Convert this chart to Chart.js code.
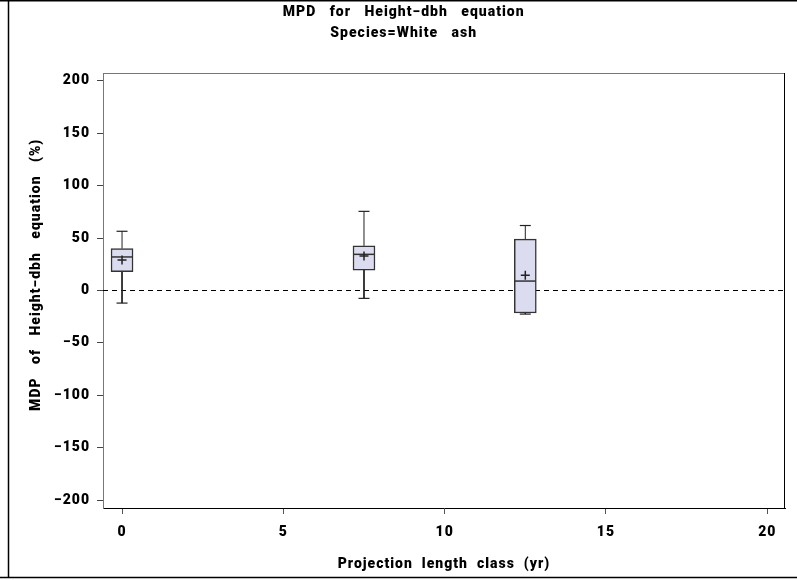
<!DOCTYPE html>
<html>
<head>
<meta charset="utf-8">
<title>MPD for Height-dbh equation</title>
<script src="https://cdn.jsdelivr.net/npm/chart.js@4.4.0/dist/chart.umd.min.js"></script>
<style>
  html, body { margin: 0; padding: 0; background: #fff; }
  canvas { display: block; }
</style>
</head>
<body>
<canvas id="boxChart" width="797" height="580"></canvas>
<script>
// box statistics per projection length class
const classes = [0, 7.5, 12.5];
const whiskerLow = [-12, -7.5, -22.5];
const q1 = [18, 19.5, -21.5];
const median = [32, 34.5, 9];
const q3 = [40, 42.5, 49];
const whiskerHigh = [56.5, 75.5, 62];
const means = [29, 33, 14.5];

// axis ticks and ranges
const xTicks = [0, 5, 10, 15, 20];
const yTicks = [-200, -150, -100, -50, 0, 50, 100, 150, 200];
const xRange = [-0.59, 20.55];
const yRange = [-207.5, 207.5];

const pad = n => '\u00A0'.repeat(n);
const gap3 = '\u00A0\u00A0\u00A0';
const titleLines = [
  pad(5) + ['MPD', 'for', 'Height\u2212dbh', 'equation'].join(gap3),
  pad(5) + ['Species=White', 'ash'].join(gap3)
];
const xLabel = ['Projection', 'length', 'class', '(yr)'].join('\u00A0\u00A0');
const yLabel = pad(7) + ['MDP', 'of', 'Height\u2212dbh', 'equation', '(%)'].join(gap3);

Chart.defaults.font.family = "Roboto, 'Liberation Sans', Arial, sans-serif";
Chart.defaults.font.size = 14;
Chart.defaults.font.weight = 900;
Chart.defaults.color = '#000';

// whisker segments, null breaks the line between them
const whiskerData = [];
classes.forEach((c, i) => {
  whiskerData.push({x: c, y: q3[i]}, {x: c, y: whiskerHigh[i]}, {x: c, y: null});
  whiskerData.push({x: c, y: q1[i]}, {x: c, y: whiskerLow[i]}, {x: c, y: null});
});

// outer frame + top/right sides of the plot box
const framePlugin = {
  id: 'frame',
  beforeDraw(chart) {
    const ctx = chart.ctx;
    ctx.letterSpacing = '1px';
    ctx.save();
    ctx.strokeStyle = '#000';
    ctx.lineWidth = 1.5;
    ctx.beginPath();
    ctx.moveTo(0, 0.75); ctx.lineTo(chart.width, 0.75);
    ctx.moveTo(0, 577.5); ctx.lineTo(chart.width, 577.5);
    ctx.moveTo(8.5, 0); ctx.lineTo(8.5, 578);
    ctx.stroke();
    ctx.restore();
  },
  afterDraw(chart) {
    const {ctx, chartArea: a} = chart;
    ctx.save();
    ctx.lineWidth = 1;
    ctx.strokeStyle = '#777';
    ctx.beginPath();
    ctx.moveTo(a.left, a.top + 0.5); ctx.lineTo(a.right, a.top + 0.5);
    ctx.stroke();
    ctx.strokeStyle = '#000';
    ctx.beginPath();
    ctx.moveTo(a.right - 0.5, a.top); ctx.lineTo(a.right - 0.5, a.bottom);
    ctx.stroke();
    ctx.restore();
  }
};

const ctx = document.getElementById('boxChart').getContext('2d');
new Chart(ctx, {
  type: 'bar',
  data: {
    datasets: [
      {
        label: 'box',
        data: classes.map((c, i) => ({x: c, y: [q1[i], q3[i]]})),
        backgroundColor: '#dcdcf0',
        borderColor: '#333',
        borderWidth: 1.5,
        borderSkipped: false,
        barThickness: 22,
        order: 5
      },
      {
        type: 'line',
        label: 'zero',
        data: [{x: xRange[0], y: 0}, {x: xRange[1], y: 0}],
        borderColor: '#000',
        borderWidth: 1,
        borderDash: [5, 4],
        pointRadius: 0,
        order: 10
      },
      {
        type: 'line',
        label: 'whisker',
        data: whiskerData,
        borderColor: '#222',
        borderWidth: 1,
        pointRadius: 0,
        spanGaps: false,
        order: 6
      },
      {
        type: 'line',
        label: 'caps',
        data: classes.flatMap((c, i) => [{x: c, y: whiskerHigh[i]}, {x: c, y: whiskerLow[i]}]),
        showLine: false,
        pointStyle: 'line',
        pointRadius: 5.5,
        pointBorderColor: '#222',
        pointBorderWidth: 1.2,
        order: 3
      },
      {
        type: 'line',
        label: 'median',
        data: classes.map((c, i) => ({x: c, y: median[i]})),
        showLine: false,
        pointStyle: 'line',
        pointRadius: 10.5,
        pointBorderColor: '#333',
        pointBorderWidth: 1.5,
        order: 2
      },
      {
        type: 'line',
        label: 'mean',
        data: classes.map((c, i) => ({x: c, y: means[i]})),
        showLine: false,
        pointStyle: 'cross',
        pointRadius: 4.5,
        pointBorderColor: '#222',
        pointBorderWidth: 1.5,
        order: 1
      }
    ]
  },
  options: {
    responsive: false,
    animation: false,
    layout: { padding: { left: 0, right: 12, top: 0, bottom: 0 } },
    plugins: {
      legend: { display: false },
      tooltip: { enabled: false },
      title: {
        display: true,
        text: titleLines,
        color: '#000',
        font: { size: 14, weight: 900, lineHeight: 1.5 },
        padding: { top: 2, bottom: 29 }
      }
    },
    scales: {
      x: {
        type: 'linear',
        min: xRange[0],
        max: xRange[1],
        offset: false,
        afterBuildTicks: s => { s.ticks = xTicks.map(v => ({value: v})); },
        afterFit: s => { s.height = 72; },
        ticks: { padding: 10, color: '#000', callback: v => String(v) },
        grid: { offset: false, drawOnChartArea: false, tickLength: 6, color: '#555' },
        border: { color: '#000', width: 1 },
        title: { display: true, text: xLabel, color: '#000', padding: { top: 0, bottom: 7 } }
      },
      y: {
        type: 'linear',
        min: yRange[0],
        max: yRange[1],
        afterBuildTicks: s => { s.ticks = yTicks.map(v => ({value: v})); },
        afterFit: s => { s.width = 103; },
        ticks: {
          padding: 7,
          color: '#000',
          callback: v => (v < 0 ? '\u2212' + Math.abs(v) : String(v))
        },
        grid: { drawOnChartArea: false, tickLength: 6, color: '#444' },
        border: { color: '#777', width: 1 },
        title: { display: true, text: yLabel, color: '#000', padding: { top: 28 } }
      }
    }
  },
  plugins: [framePlugin]
});
</script>
</body>
</html>
